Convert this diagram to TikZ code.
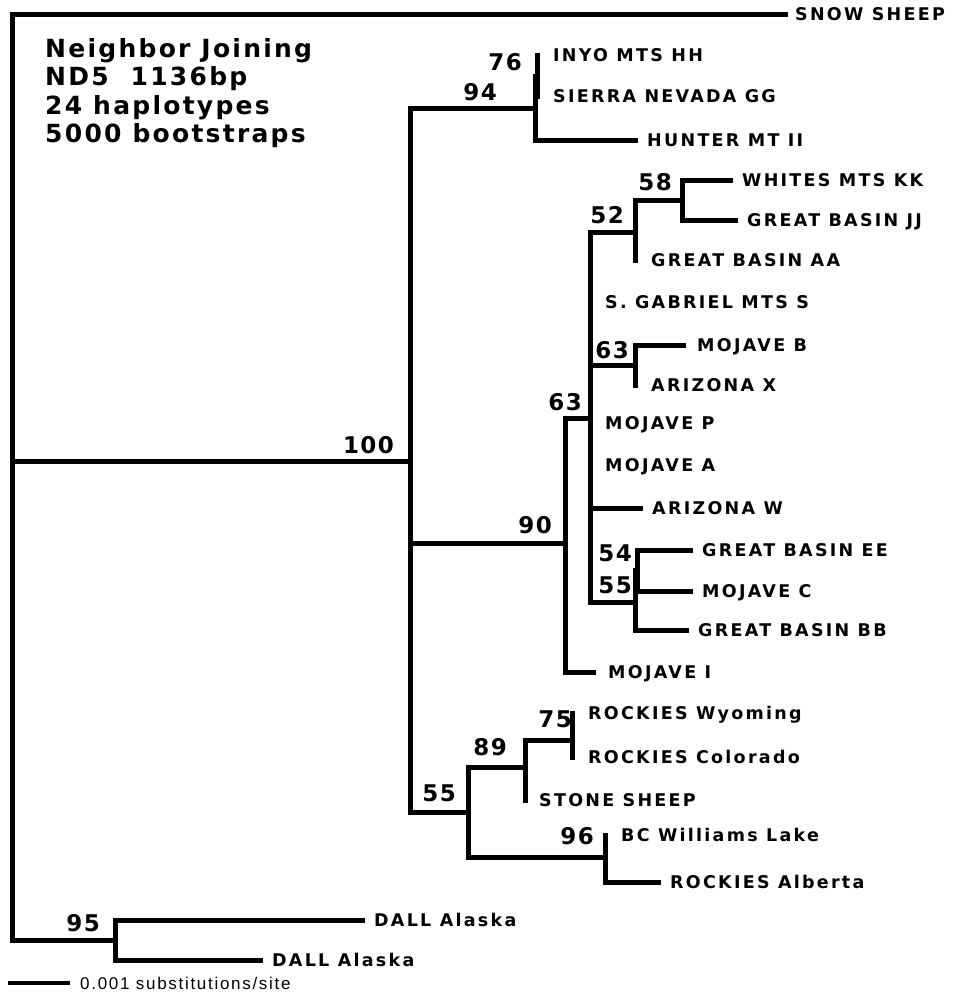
\documentclass[tikz,border=0pt]{standalone}
\usepackage{fontspec}
\usetikzlibrary{positioning}
\newfontfamily\leaffont[LetterSpace=13]{DejaVu Sans}
\newfontfamily\bootfont[LetterSpace=6]{DejaVu Sans}
\newfontfamily\titlefont[LetterSpace=9]{DejaVu Sans}
\newfontfamily\barfont[LetterSpace=10]{Liberation Sans}
\tikzset{
  branch/.style={
    line width=5pt,
    line join=miter,
    line cap=rect,
    black
  },
  leaf/.style={
    anchor=west,
    inner sep=0pt,
    text height=12.6pt,
    text depth=0pt,
    font=\leaffont\bfseries\fontsize{17.5}{19}\selectfont
  },
  boot/.style={
    anchor=east,
    inner sep=0pt,
    text height=17pt,
    text depth=0pt,
    font=\bootfont\bfseries\fontsize{23}{25}\selectfont
  },
  title/.style={
    anchor=north west,
    inner sep=0pt,
    align=left,
    font=\titlefont\bfseries\fontsize{25}{28.5}\selectfont
  }
}

\begin{document}
\begin{tikzpicture}[x=1pt,y=-1pt,node distance=12pt]
\useasboundingbox (0,0) rectangle (956,993);
% branch points
\coordinate (root) at (12,461);
\coordinate (n100) at (410,461);
\coordinate (n94) at (535,108);
\coordinate (n76) at (537,76);
\coordinate (n90) at (565,543);
\coordinate (n63b) at (590,418);
\coordinate (n52) at (635,232);
\coordinate (n58) at (682,200);
\coordinate (n63a) at (635,365);
\coordinate (n55a) at (635,602);
\coordinate (n54) at (637,570);
\coordinate (n55b) at (468,812);
\coordinate (n89) at (525,767);
\coordinate (n75) at (572,740);
\coordinate (n96) at (605,857);
\coordinate (n95) at (115,940);
% tips
\coordinate (tSnow) at (785,14);
\coordinate (tInyo) at (537,55);
\coordinate (tSierra) at (537,96);
\coordinate (tHunter) at (635,140);
\coordinate (tWhites) at (730,180);
\coordinate (tBasinJJ) at (735,220);
\coordinate (tBasinAA) at (635,260);
\coordinate (tGabriel) at (590,302);
\coordinate (tMojB) at (683,345);
\coordinate (tArizX) at (635,385);
\coordinate (tMojP) at (590,423);
\coordinate (tMojA) at (590,465);
\coordinate (tArizW) at (640,508);
\coordinate (tBasinEE) at (690,550);
\coordinate (tMojC) at (690,591);
\coordinate (tBasinBB) at (686,630);
\coordinate (tMojI) at (593,672);
\coordinate (tWyo) at (572,713);
\coordinate (tColo) at (572,757);
\coordinate (tStone) at (525,800);
\coordinate (tWilliams) at (605,835);
\coordinate (tAlberta) at (658,882);
\coordinate (tDallA) at (362,920);
\coordinate (tDallB) at (260,960);
% tree
\draw[branch] (root) |- (tSnow);
\draw[branch] (root) |- (n95);
\draw[branch] (root) -- (n100);
\draw[branch] (n100) |- (n94);
\draw[branch] (n100) |- (n90);
\draw[branch] (n100) |- (n55b);
\draw[branch] (n94) |- (n76);
\draw[branch] (n94) |- (tHunter);
\draw[branch] (n76) -- (tInyo);
\draw[branch] (n76) -- (tSierra);
\draw[branch] (n90) |- (n63b);
\draw[branch] (n90) |- (tMojI);
\draw[branch] (n63b) |- (n52);
\draw[branch] (n63b) |- (tGabriel);
\draw[branch] (n63b) |- (n63a);
\draw[branch] (n63b) |- (tMojA);
\draw[branch] (n63b) |- (tArizW);
\draw[branch] (n63b) |- (n55a);
\draw[branch] (n52) |- (n58);
\draw[branch] (n52) |- (tBasinAA);
\draw[branch] (n58) |- (tWhites);
\draw[branch] (n58) |- (tBasinJJ);
\draw[branch] (n63a) |- (tMojB);
\draw[branch] (n63a) |- (tArizX);
\draw[branch] (n55a) |- (n54);
\draw[branch] (n55a) |- (tBasinBB);
\draw[branch] (n54) |- (tBasinEE);
\draw[branch] (n54) |- (tMojC);
\draw[branch] (n55b) |- (n89);
\draw[branch] (n55b) |- (n96);
\draw[branch] (n89) |- (n75);
\draw[branch] (n89) |- (tStone);
\draw[branch] (n75) -- (tWyo);
\draw[branch] (n75) -- (tColo);
\draw[branch] (n96) |- (tWilliams);
\draw[branch] (n96) |- (tAlberta);
\draw[branch] (n95) |- (tDallA);
\draw[branch] (n95) |- (tDallB);
% taxa
\node[leaf,right=10pt of tSnow] (lSnow) {SNOW SHEEP};
\node[leaf,right=16pt of tInyo] (lInyo) {INYO MTS HH};
\node[leaf,right=16pt of tSierra] (lSierra) {SIERRA NEVADA GG};
\node[leaf,right=of tHunter] (lHunter) {HUNTER MT II};
\node[leaf,right=of tWhites] (lWhites) {WHITES MTS KK};
\node[leaf,right=of tBasinJJ] (lBasinJJ) {GREAT BASIN JJ};
\node[leaf,right=16pt of tBasinAA] (lBasinAA) {GREAT BASIN AA};
\node[leaf,right=15pt of tGabriel] (lGabriel) {S. GABRIEL MTS S};
\node[leaf,right=14pt of tMojB] (lMojB) {MOJAVE B};
\node[leaf,right=16pt of tArizX] (lArizX) {ARIZONA X};
\node[leaf,right=15pt of tMojP] (lMojP) {MOJAVE P};
\node[leaf,right=15pt of tMojA] (lMojA) {MOJAVE A};
\node[leaf,right=of tArizW] (lArizW) {ARIZONA W};
\node[leaf,right=of tBasinEE] (lBasinEE) {GREAT BASIN EE};
\node[leaf,right=of tMojC] (lMojC) {MOJAVE C};
\node[leaf,right=of tBasinBB] (lBasinBB) {GREAT BASIN BB};
\node[leaf,right=15pt of tMojI] (lMojI) {MOJAVE I};
\node[leaf,right=16pt of tWyo] (lWyo) {ROCKIES Wyoming};
\node[leaf,right=16pt of tColo] (lColo) {ROCKIES Colorado};
\node[leaf,right=14pt of tStone] (lStone) {STONE SHEEP};
\node[leaf,right=16pt of tWilliams] (lWilliams) {BC Williams Lake};
\node[leaf,right=of tAlberta] (lAlberta) {ROCKIES Alberta};
\node[leaf,right=of tDallA] (lDallA) {DALL Alaska};
\node[leaf,right=of tDallB] (lDallB) {DALL Alaska};
% bootstrap values
\node[boot] (b100) at (394,445) {100};
\node[boot] (b94) at (497,92) {94};
\node[boot] (b76) at (522,62) {76};
\node[boot] (b58) at (672,182) {58};
\node[boot] (b52) at (624,215) {52};
\node[boot] (b63a) at (629,350) {63};
\node[boot] (b63b) at (582,402) {63};
\node[boot] (b90) at (552,525) {90};
\node[boot] (b54) at (632,553) {54};
\node[boot] (b55a) at (632,585) {55};
\node[boot] (b55b) at (456,793) {55};
\node[boot] (b89) at (507,747) {89};
\node[boot] (b75) at (572,719) {75};
\node[boot] (b96) at (594,836) {96};
\node[boot] (b95) at (100,923) {95};
% legend
\node[title] (info) at (45,38) {Neighbor Joining\\ND5\ \ 1136bp\\24 haplotypes\\5000 bootstraps};
\coordinate (barL) at (8,983);
\coordinate (barR) at (70,983);
\draw[line width=4pt] (barL) -- (barR);
\node[anchor=west,inner sep=0pt,text height=12pt,text depth=0pt,font=\barfont\fontsize{17}{18}\selectfont,right=10pt of barR] (barLabel) {0.001 substitutions/site};
\end{tikzpicture}
\end{document}
